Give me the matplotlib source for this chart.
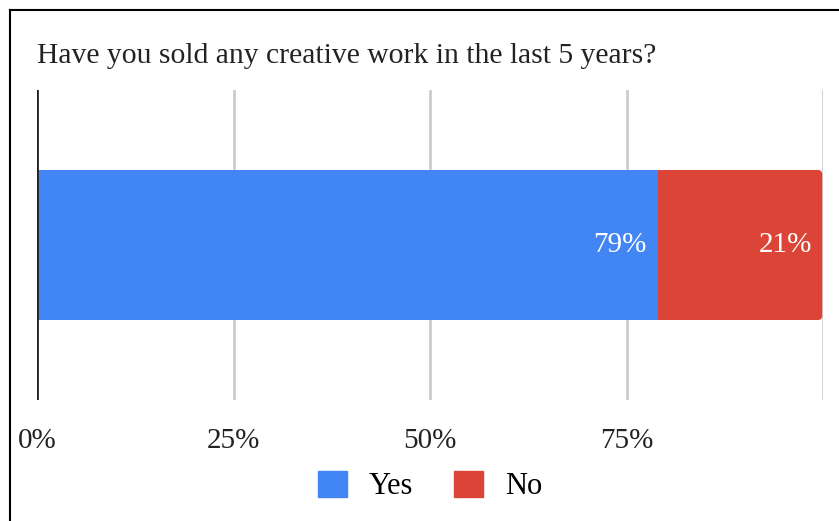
import matplotlib
matplotlib.use('Agg')
import matplotlib.pyplot as plt
from matplotlib.lines import Line2D
from matplotlib.patches import Patch, FancyBboxPatch

plt.rcParams['font.family'] = ['Liberation Serif', 'DejaVu Serif']

title = 'Have you sold any creative work in the last 5 years?'
answers = ['Yes', 'No']
shares = [79, 21]
colors = ['#4285F4', '#DB4437']
ticks = [0, 25, 50, 75]
tick_labels = ['0%', '25%', '50%', '75%']

fig = plt.figure(figsize=(8.39, 5.21), dpi=100)
ax = fig.add_axes([37/839, 1 - 400/521, (823 - 37)/839, 310/521])

bar_h = 0.484
left = 0
for i, (name, val, c) in enumerate(zip(answers, shares, colors)):
    if i == len(shares) - 1:
        # last segment gets rounded right corners
        end = FancyBboxPatch((left, -bar_h/2), val - 0.1, bar_h,
                             boxstyle='round,pad=0,rounding_size=0.55',
                             mutation_aspect=0.0254, fc=c, ec='none', zorder=2)
        ax.add_patch(end)
        ax.barh(0, val / 2, left=left, height=bar_h, color=c, zorder=2)
    else:
        ax.barh(0, val, left=left, height=bar_h, color=c, zorder=2)
    ax.text(left + val - 1.4, 0, f'{val}%', ha='right', va='center',
            color='white', fontsize=21, zorder=3)
    left += val

ax.set_xlim(0, 100)
ax.set_ylim(-0.5, 0.5)
ax.set_yticks([])
ax.set_xticks(ticks)
ax.set_xticklabels(tick_labels, fontsize=21, color='#222222')
ax.tick_params(axis='x', length=0, pad=20)
for x in ticks[1:] + [100]:
    ax.axvline(x, color='#cccccc', lw=2, zorder=0)
for s in ax.spines.values():
    s.set_visible(False)
ax.axvline(0, color='#222222', lw=2, zorder=3)

fig.text(37/839, 1 - 56/521, title, fontsize=21.3, va='center', ha='left', color='#222222')

handles = [Patch(facecolor=c, edgecolor=c, label=n) for n, c in zip(answers, colors)]
fig.legend(handles=handles, loc='center', bbox_to_anchor=(430/839, 1 - 486/521),
           ncol=2, frameon=False, fontsize=22, handlelength=0.95, handleheight=0.95,
           handletextpad=0.72, columnspacing=1.34)

# frame lines along top and left edge
fig.add_artist(Line2D([10/839, 1], [1 - 10/521, 1 - 10/521], color='black', lw=1.5))
fig.add_artist(Line2D([10/839, 10/839], [0, 1 - 10/521], color='black', lw=1.5))

fig.savefig('out.png', dpi=100)
